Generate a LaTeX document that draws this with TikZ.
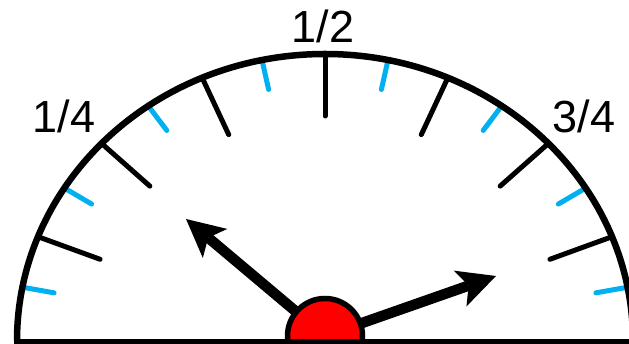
\documentclass[tikz,border=0pt]{standalone}
\usepackage{fontspec}
\setmainfont{Liberation Sans}
\usetikzlibrary{arrows.meta}
\definecolor{tickblue}{RGB}{0,176,240}
\begin{document}
\begin{tikzpicture}[x=1pt,y=1pt,
  dial/.style={line width=6.5pt},
  majortick/.style={line width=5pt, line cap=round, draw=black},
  minortick/.style={line width=5pt, line cap=round, draw=tickblue},
  hand/.style={line width=10.5pt, -{Stealth[length=38pt,width=38pt,inset=9pt,line width=0pt]}},
  hubnode/.style={circle, draw=black, fill=red, line width=5.5pt, minimum size=75pt, inner sep=0pt},
  lbl/.style={font=\fontsize{45}{50}\selectfont, anchor=base, inner sep=0pt}]
\useasboundingbox (0,0) rectangle (629,344);
\fill[white] (0,0) rectangle (629,344);
% ticks
\begin{scope}[shift={(325,3)}, xscale=1.0732]
  \foreach \t in {10.8,32.2,55,78.2} {
    \draw[minortick] (180-\t:287) -- (180-\t:257);
    \draw[minortick] (\t:287) -- (\t:257);
  }
  \foreach \t in {21.3,43.5,66.5} {
    \draw[majortick] (180-\t:287) -- (180-\t:225);
    \draw[majortick] (\t:287) -- (\t:225);
  }
  \draw[majortick] (90:287) -- (90:225);
\end{scope}
% dial outline
\draw[dial] (17,3) arc[start angle=180, end angle=0, x radius=308pt, y radius=287pt];
% hands
\coordinate (c) at (325,8);
\coordinate (tipL) at (186,125);
\coordinate (tipR) at (496,68);
\draw[hand] (c) -- (tipL);
\draw[hand] (c) -- (tipR);
\node[hubnode] (hub) at (c) {};
\draw[dial] (14,2) -- (640,2);
% labels
\node[lbl] (half) at (323,301) {1/2};
\node[lbl] (quarter) at (64,211) {1/4};
\node[lbl] (threeq) at (584,211) {3/4};
\end{tikzpicture}
\end{document}
